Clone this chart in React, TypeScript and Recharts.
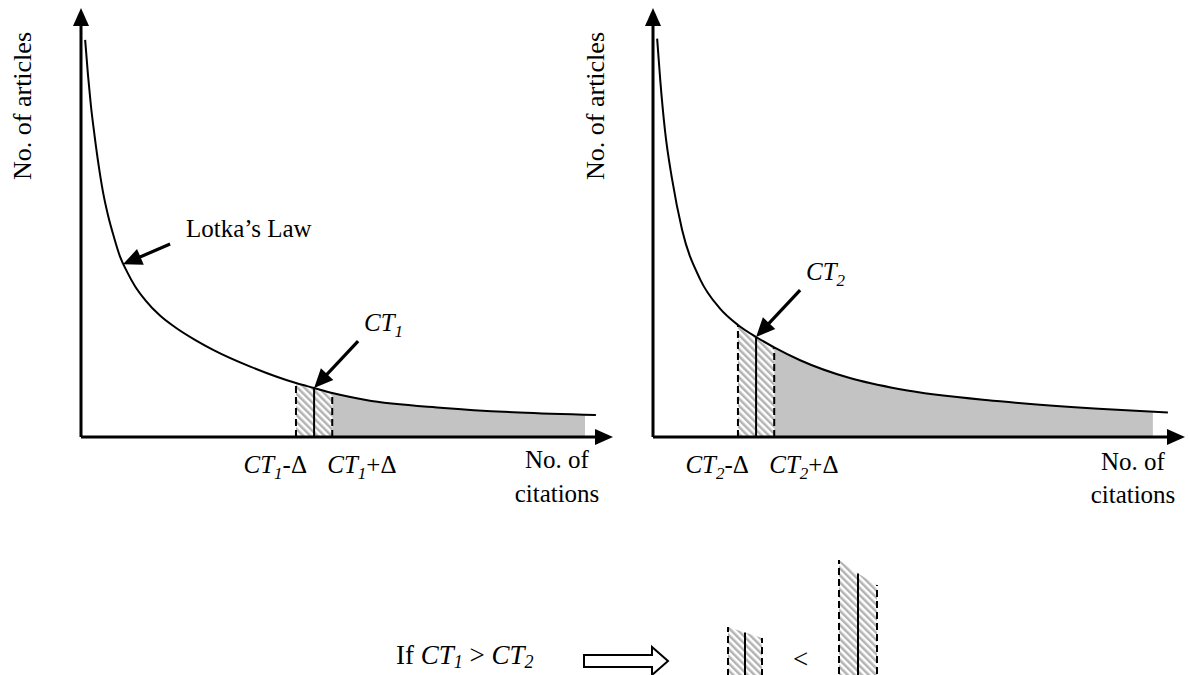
import React from 'react';
import { ComposedChart, Line, Area, XAxis, YAxis, ReferenceLine } from 'recharts';

const FONT = '"Liberation Serif", "Times New Roman", Times, serif';

// left panel: Lotka curve, CT1 window and tail
const curve1 = [
  { c: 0.8, a: 95.7 }, { c: 1.35, a: 87.2 }, { c: 1.9, a: 80 }, { c: 2.6, a: 72.8 }, { c: 3.4, a: 65.5 },
  { c: 4.25, a: 59 }, { c: 5.2, a: 53.5 }, { c: 6.4, a: 48 }, { c: 7.5, a: 43.6 }, { c: 8.9, a: 39.8 },
  { c: 10.4, a: 36.4 }, { c: 12.4, a: 33 }, { c: 15.3, a: 29.2 }, { c: 18.1, a: 26.5 }, { c: 22, a: 23.4 },
  { c: 25.5, a: 21 }, { c: 32.8, a: 16.9 }, { c: 41.5, a: 13 }, { c: 45, a: 11.8 }, { c: 48.5, a: 10.6 },
  { c: 55, a: 8.9 }, { c: 70, a: 7 }, { c: 84.6, a: 5.9 }, { c: 99.4, a: 5.3 },
];
const hatch1 = [{ c: 41.5, a: 13 }, { c: 45, a: 11.8 }, { c: 48.5, a: 10.6 }];
const grey1 = [{ c: 48.5, a: 10.6 }, { c: 55, a: 8.9 }, { c: 70, a: 7 }, { c: 84.6, a: 5.9 }, { c: 97.3, a: 5.4 }];

// right panel: CT2 window and tail
const curve2 = [
  { c: 0.8, a: 96 }, { c: 1.4, a: 86 }, { c: 2.3, a: 74 }, { c: 3.7, a: 62 }, { c: 5.6, a: 50 },
  { c: 9.1, a: 38 }, { c: 12.9, a: 31 }, { c: 16.4, a: 27 }, { c: 19.9, a: 24.1 }, { c: 23.4, a: 21.6 },
  { c: 28.4, a: 18.5 }, { c: 38, a: 14.2 }, { c: 47.7, a: 11.5 }, { c: 67, a: 8.6 }, { c: 86, a: 6.8 },
  { c: 99.4, a: 5.9 },
];
const hatch2 = [{ c: 16.4, a: 27 }, { c: 19.9, a: 24.1 }, { c: 23.4, a: 21.6 }];
const grey2 = [{ c: 23.4, a: 21.6 }, { c: 28.4, a: 18.5 }, { c: 38, a: 14.2 }, { c: 47.7, a: 11.5 }, { c: 67, a: 8.6 }, { c: 86, a: 6.8 }, { c: 96.5, a: 6.1 }];

// annotation arrows (tail -> head)
const lotkaArrow = [{ c: 17.2, a: 46.5 }, { c: 8.1, a: 41.6 }];
const ct1Arrow = [{ c: 53.5, a: 23.1 }, { c: 45, a: 11.8 }];
const ct2Arrow = [{ c: 28.4, a: 35.4 }, { c: 19.9, a: 24.1 }];

const tickText = ['-Δ', '+Δ'];

const ArrowShape = (p: any) => {
  const { x1, y1, x2, y2 } = p;
  const dx = x2 - x1, dy = y2 - y1;
  const len = Math.hypot(dx, dy) || 1;
  const ux = dx / len, uy = dy / len;
  const hl = 19, hw = 8.5;
  const bx = x2 - ux * hl, by = y2 - uy * hl;
  return (
    <g>
      <line x1={x1} y1={y1} x2={bx + ux * 3} y2={by + uy * 3} stroke="#000" strokeWidth={3.2} />
      <polygon points={`${x2},${y2} ${bx - uy * hw},${by + ux * hw} ${bx + uy * hw},${by - ux * hw}`} fill="#000" />
    </g>
  );
};

const makeTick = (sub: string) => (props: any) => {
  const { x, index } = props;
  const minus = index === 0;
  return (
    <text
      x={minus ? x + 11 : x - 5}
      y={473}
      textAnchor={minus ? 'end' : 'start'}
      fontFamily={FONT}
      fontSize={25}
      fill="#000"
    >
      <tspan fontStyle="italic">CT</tspan>
      <tspan fontStyle="italic" fontSize={17} dy={6}>{sub}</tspan>
      <tspan dy={-6}>{tickText[index]}</tspan>
    </text>
  );
};

interface PanelProps {
  curve: { c: number; a: number }[];
  hatch: { c: number; a: number }[];
  grey: { c: number; a: number }[];
  arrows: { c: number; a: number }[][];
  sub: string;
}

const Panel = ({ curve, hatch, grey, arrows, sub }: PanelProps) => {
  const [lo, mid, hi] = hatch;
  return (
    <ComposedChart width={620} height={520} margin={{ top: 22, right: 21, bottom: 0, left: 0 }}>
      <XAxis
        type="number"
        dataKey="c"
        domain={[0, 100]}
        ticks={[lo.c, hi.c]}
        tick={makeTick(sub)}
        tickLine={false}
        height={83}
        axisLine={{ stroke: '#000', strokeWidth: 3, markerEnd: 'url(#axisArrow)' }}
      />
      <YAxis
        type="number"
        domain={[0, 100]}
        width={81}
        tick={false}
        tickLine={false}
        axisLine={{ stroke: '#000', strokeWidth: 3, markerStart: 'url(#axisArrow)' }}
      />
      <Area data={grey} dataKey="a" type="monotone" fill="#c3c3c3" fillOpacity={1} stroke="none" isAnimationActive={false} />
      <Area data={hatch} dataKey="a" type="monotone" fill="url(#hatch)" fillOpacity={1} stroke="none" isAnimationActive={false} />
      <Line data={curve} dataKey="a" type="monotone" stroke="#000" strokeWidth={2} dot={false} isAnimationActive={false} />
      <ReferenceLine segment={[{ x: lo.c, y: 0 }, { x: lo.c, y: lo.a }]} stroke="#000" strokeWidth={2} strokeDasharray="7 4" />
      <ReferenceLine segment={[{ x: hi.c, y: 0 }, { x: hi.c, y: hi.a }]} stroke="#000" strokeWidth={2} strokeDasharray="7 4" />
      <ReferenceLine segment={[{ x: mid.c, y: 0 }, { x: mid.c, y: mid.a }]} stroke="#000" strokeWidth={2} />
      {arrows.map((seg, i) => (
        <ReferenceLine key={i} segment={[{ x: seg[0].c, y: seg[0].a }, { x: seg[1].c, y: seg[1].a }]} ifOverflow="visible" shape={ArrowShape} />
      ))}
    </ComposedChart>
  );
};

const Glyph = ({ hatch, width, height, top }: { hatch: { c: number; a: number }[]; width: number; height: number; top: number }) => {
  const [lo, mid, hi] = hatch;
  return (
    <ComposedChart width={width} height={height} margin={{ top: 0, right: 2, bottom: 0, left: 2 }}>
      <XAxis type="number" dataKey="c" domain={[lo.c, hi.c]} hide />
      <YAxis type="number" domain={[0, top]} hide />
      <Area data={hatch} dataKey="a" type="linear" fill="url(#hatch)" fillOpacity={1} stroke="none" isAnimationActive={false} />
      <ReferenceLine segment={[{ x: lo.c, y: 0 }, { x: lo.c, y: lo.a }]} stroke="#000" strokeWidth={2} strokeDasharray="7 4" />
      <ReferenceLine segment={[{ x: hi.c, y: 0 }, { x: hi.c, y: hi.a }]} stroke="#000" strokeWidth={2} strokeDasharray="7 4" />
      <ReferenceLine segment={[{ x: mid.c, y: 0 }, { x: mid.c, y: mid.a }]} stroke="#000" strokeWidth={2} />
    </ComposedChart>
  );
};

export default function App() {
  const txt = { fontFamily: FONT, fill: '#000' };
  return (
    <div style={{ position: 'absolute', left: 0, top: 0, width: 1190, height: 675, overflow: 'hidden', background: '#fff' }}>
      <svg width={0} height={0} style={{ position: 'absolute' }}>
        <defs>
          <marker id="axisArrow" markerWidth="20" markerHeight="18" refX="4" refY="8" orient="auto-start-reverse" markerUnits="userSpaceOnUse">
            <path d="M0,0 L18,8 L0,16 z" fill="#000" />
          </marker>
          <pattern id="hatch" patternUnits="userSpaceOnUse" width="5" height="5" patternTransform="rotate(-45)">
            <rect width="5" height="5" fill="#fff" />
            <rect width="2.5" height="5" fill="#b3b3b3" />
          </pattern>
        </defs>
      </svg>

      <div style={{ position: 'absolute', left: 0, top: 0 }}>
        <Panel curve={curve1} hatch={hatch1} grey={grey1} arrows={[lotkaArrow, ct1Arrow]} sub="1" />
      </div>
      <div style={{ position: 'absolute', left: 572, top: 0 }}>
        <Panel curve={curve2} hatch={hatch2} grey={grey2} arrows={[ct2Arrow]} sub="2" />
      </div>
      <div style={{ position: 'absolute', left: 726, top: 627 }}>
        <Glyph hatch={hatch1} width={38} height={60} top={13} />
      </div>
      <div style={{ position: 'absolute', left: 837, top: 560 }}>
        <Glyph hatch={hatch2} width={42} height={125} top={27} />
      </div>

      <svg width={1190} height={675} style={{ position: 'absolute', left: 0, top: 0, pointerEvents: 'none', whiteSpace: 'pre' }}>
        <text {...txt} fontSize={26} textAnchor="middle" dominantBaseline="central" transform="translate(22,106) rotate(-90)">No. of articles</text>
        <text {...txt} fontSize={26} textAnchor="middle" dominantBaseline="central" transform="translate(595,106) rotate(-90)">No. of articles</text>

        <text {...txt} x={186} y={237} fontSize={25}>Lotka’s Law</text>
        <text {...txt} x={364} y={331} fontSize={25}>
          <tspan fontStyle="italic">CT</tspan>
          <tspan fontStyle="italic" fontSize={17} dy={6}>1</tspan>
        </text>
        <text {...txt} x={806} y={280} fontSize={25}>
          <tspan fontStyle="italic">CT</tspan>
          <tspan fontStyle="italic" fontSize={17} dy={6}>2</tspan>
        </text>

        <text {...txt} x={557} y={468} fontSize={25} textAnchor="middle">No. of</text>
        <text {...txt} x={557} y={502} fontSize={25} textAnchor="middle">citations</text>
        <text {...txt} x={1133} y={470} fontSize={25} textAnchor="middle">No. of</text>
        <text {...txt} x={1133} y={503} fontSize={25} textAnchor="middle">citations</text>

        <text {...txt} x={396} y={664} fontSize={27}>
          <tspan>If </tspan>
          <tspan fontStyle="italic">CT</tspan>
          <tspan fontStyle="italic" fontSize={18} dy={4}>1</tspan>
          <tspan dy={-4}>  &gt; </tspan>
          <tspan fontStyle="italic">CT</tspan>
          <tspan fontStyle="italic" fontSize={18} dy={4}>2</tspan>
        </text>
        <polygon points="584,655 652,655 652,647 668,661 652,675 652,667 584,667" fill="#fff" stroke="#000" strokeWidth={2} />
        <text {...txt} x={793} y={668} fontSize={27}>&lt;</text>
      </svg>
    </div>
  );
}
